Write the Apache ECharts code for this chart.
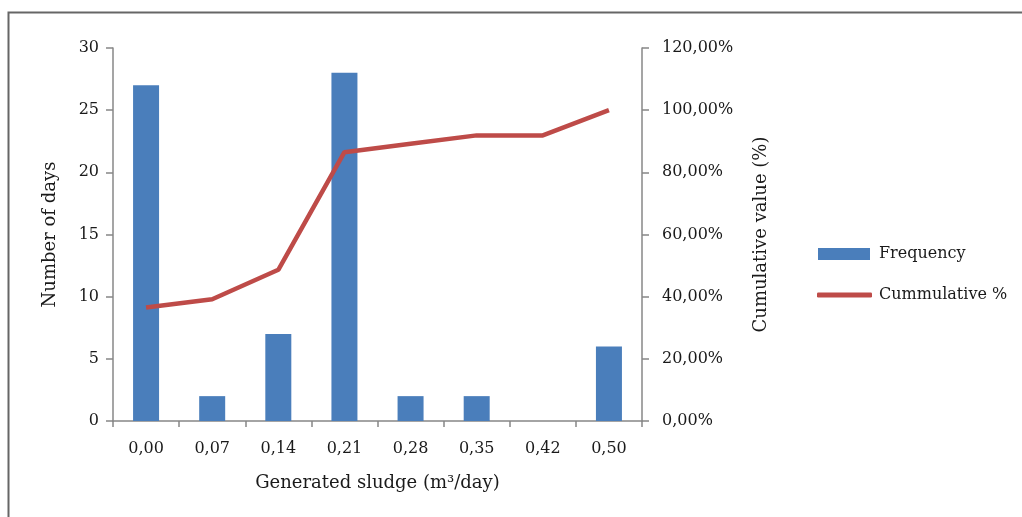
<!DOCTYPE html>
<html><head><meta charset="utf-8">
<script src="https://cdn.jsdelivr.net/npm/echarts@6/dist/echarts.min.js"></script>
<style>html,body{margin:0;padding:0;background:#fff}#c{width:1022px;height:517px}</style>
</head><body><div id="c"></div>
<script>
const categories = ['0,00','0,07','0,14','0,21','0,28','0,35','0,42','0,50'];
const frequency = [27, 2, 7, 28, 2, 2, 0, 6];
const cumulative = [36.49, 39.19, 48.65, 86.49, 89.19, 91.89, 91.89, 100];
const leftTicks = {min: 0, max: 30, interval: 5};
const rightTicks = {min: 0, max: 120, interval: 20};

const font = '"DejaVu Serif", "Liberation Serif", serif';
const axisColor = '#878787';
const textColor = '#1a1a1a';
const chart = echarts.init(document.getElementById('c'));
chart.setOption({
  animation: false,
  textStyle: {fontFamily: font, color: textColor},
  graphic: [{type: 'rect', shape: {x: 8.5, y: 12.5, width: 1030, height: 520}, style: {fill: 'none', stroke: '#666', lineWidth: 2}}],
  grid: {left: 113, right: 380, top: 48, bottom: 96},
  legend: [{
    orient: 'vertical', left: 813, top: 241, itemWidth: 52, itemHeight: 12, itemGap: 10,
    textStyle: {fontFamily: font, fontSize: 16, color: textColor, padding: [0, 0, 0, 4]},
    data: [{name: 'Frequency', icon: 'rect'}]
  }, {
    orient: 'vertical', left: 812, top: 282, itemWidth: 55, itemHeight: 5, itemGap: 10,
    textStyle: {fontFamily: font, fontSize: 16, color: textColor, padding: [0, 0, 0, 2]},
    data: [{name: 'Cummulative %', icon: 'roundRect'}]
  }],
  xAxis: {
    type: 'category', data: categories, boundaryGap: true,
    name: 'Generated sludge (m³/day)', nameLocation: 'middle', nameGap: 53,
    nameTextStyle: {fontFamily: font, fontSize: 18, color: textColor},
    axisLine: {lineStyle: {color: axisColor, width: 1.5}},
    axisTick: {show: true, length: 6, lineStyle: {color: axisColor, width: 1.5}},
    axisLabel: {fontFamily: font, fontSize: 16, color: textColor, margin: 20}
  },
  yAxis: [{
    type: 'value', position: 'left', min: leftTicks.min, max: leftTicks.max, interval: leftTicks.interval,
    name: 'Number of days', nameLocation: 'middle', nameGap: 54, nameRotate: 90,
    nameTextStyle: {fontFamily: font, fontSize: 18, color: textColor},
    axisLine: {show: true, lineStyle: {color: axisColor, width: 1.5}},
    axisTick: {show: true, length: 7, lineStyle: {color: axisColor, width: 1.5}},
    axisLabel: {fontFamily: font, fontSize: 16, color: textColor, margin: 14},
    splitLine: {show: false}
  }, {
    type: 'value', position: 'right', min: rightTicks.min, max: rightTicks.max, interval: rightTicks.interval,
    name: 'Cumulative value (%)', nameLocation: 'middle', nameGap: 110, nameRotate: 90,
    nameTextStyle: {fontFamily: font, fontSize: 18, color: textColor},
    axisLine: {show: true, lineStyle: {color: axisColor, width: 1.5}},
    axisTick: {show: true, length: 7, lineStyle: {color: axisColor, width: 1.5}},
    axisLabel: {fontFamily: font, fontSize: 16, color: textColor, margin: 20,
      formatter: v => v.toFixed(2).replace('.', ',') + '%'},
    splitLine: {show: false}
  }],
  series: [{
    name: 'Frequency', type: 'bar', data: frequency, barWidth: 26,
    itemStyle: {color: '#4a7ebb'}, yAxisIndex: 0
  }, {
    name: 'Cummulative %', type: 'line', data: cumulative, yAxisIndex: 1,
    symbol: 'none', lineStyle: {color: '#be4b48', width: 4.5}, itemStyle: {color: '#be4b48'}
  }]
});
</script></body></html>
